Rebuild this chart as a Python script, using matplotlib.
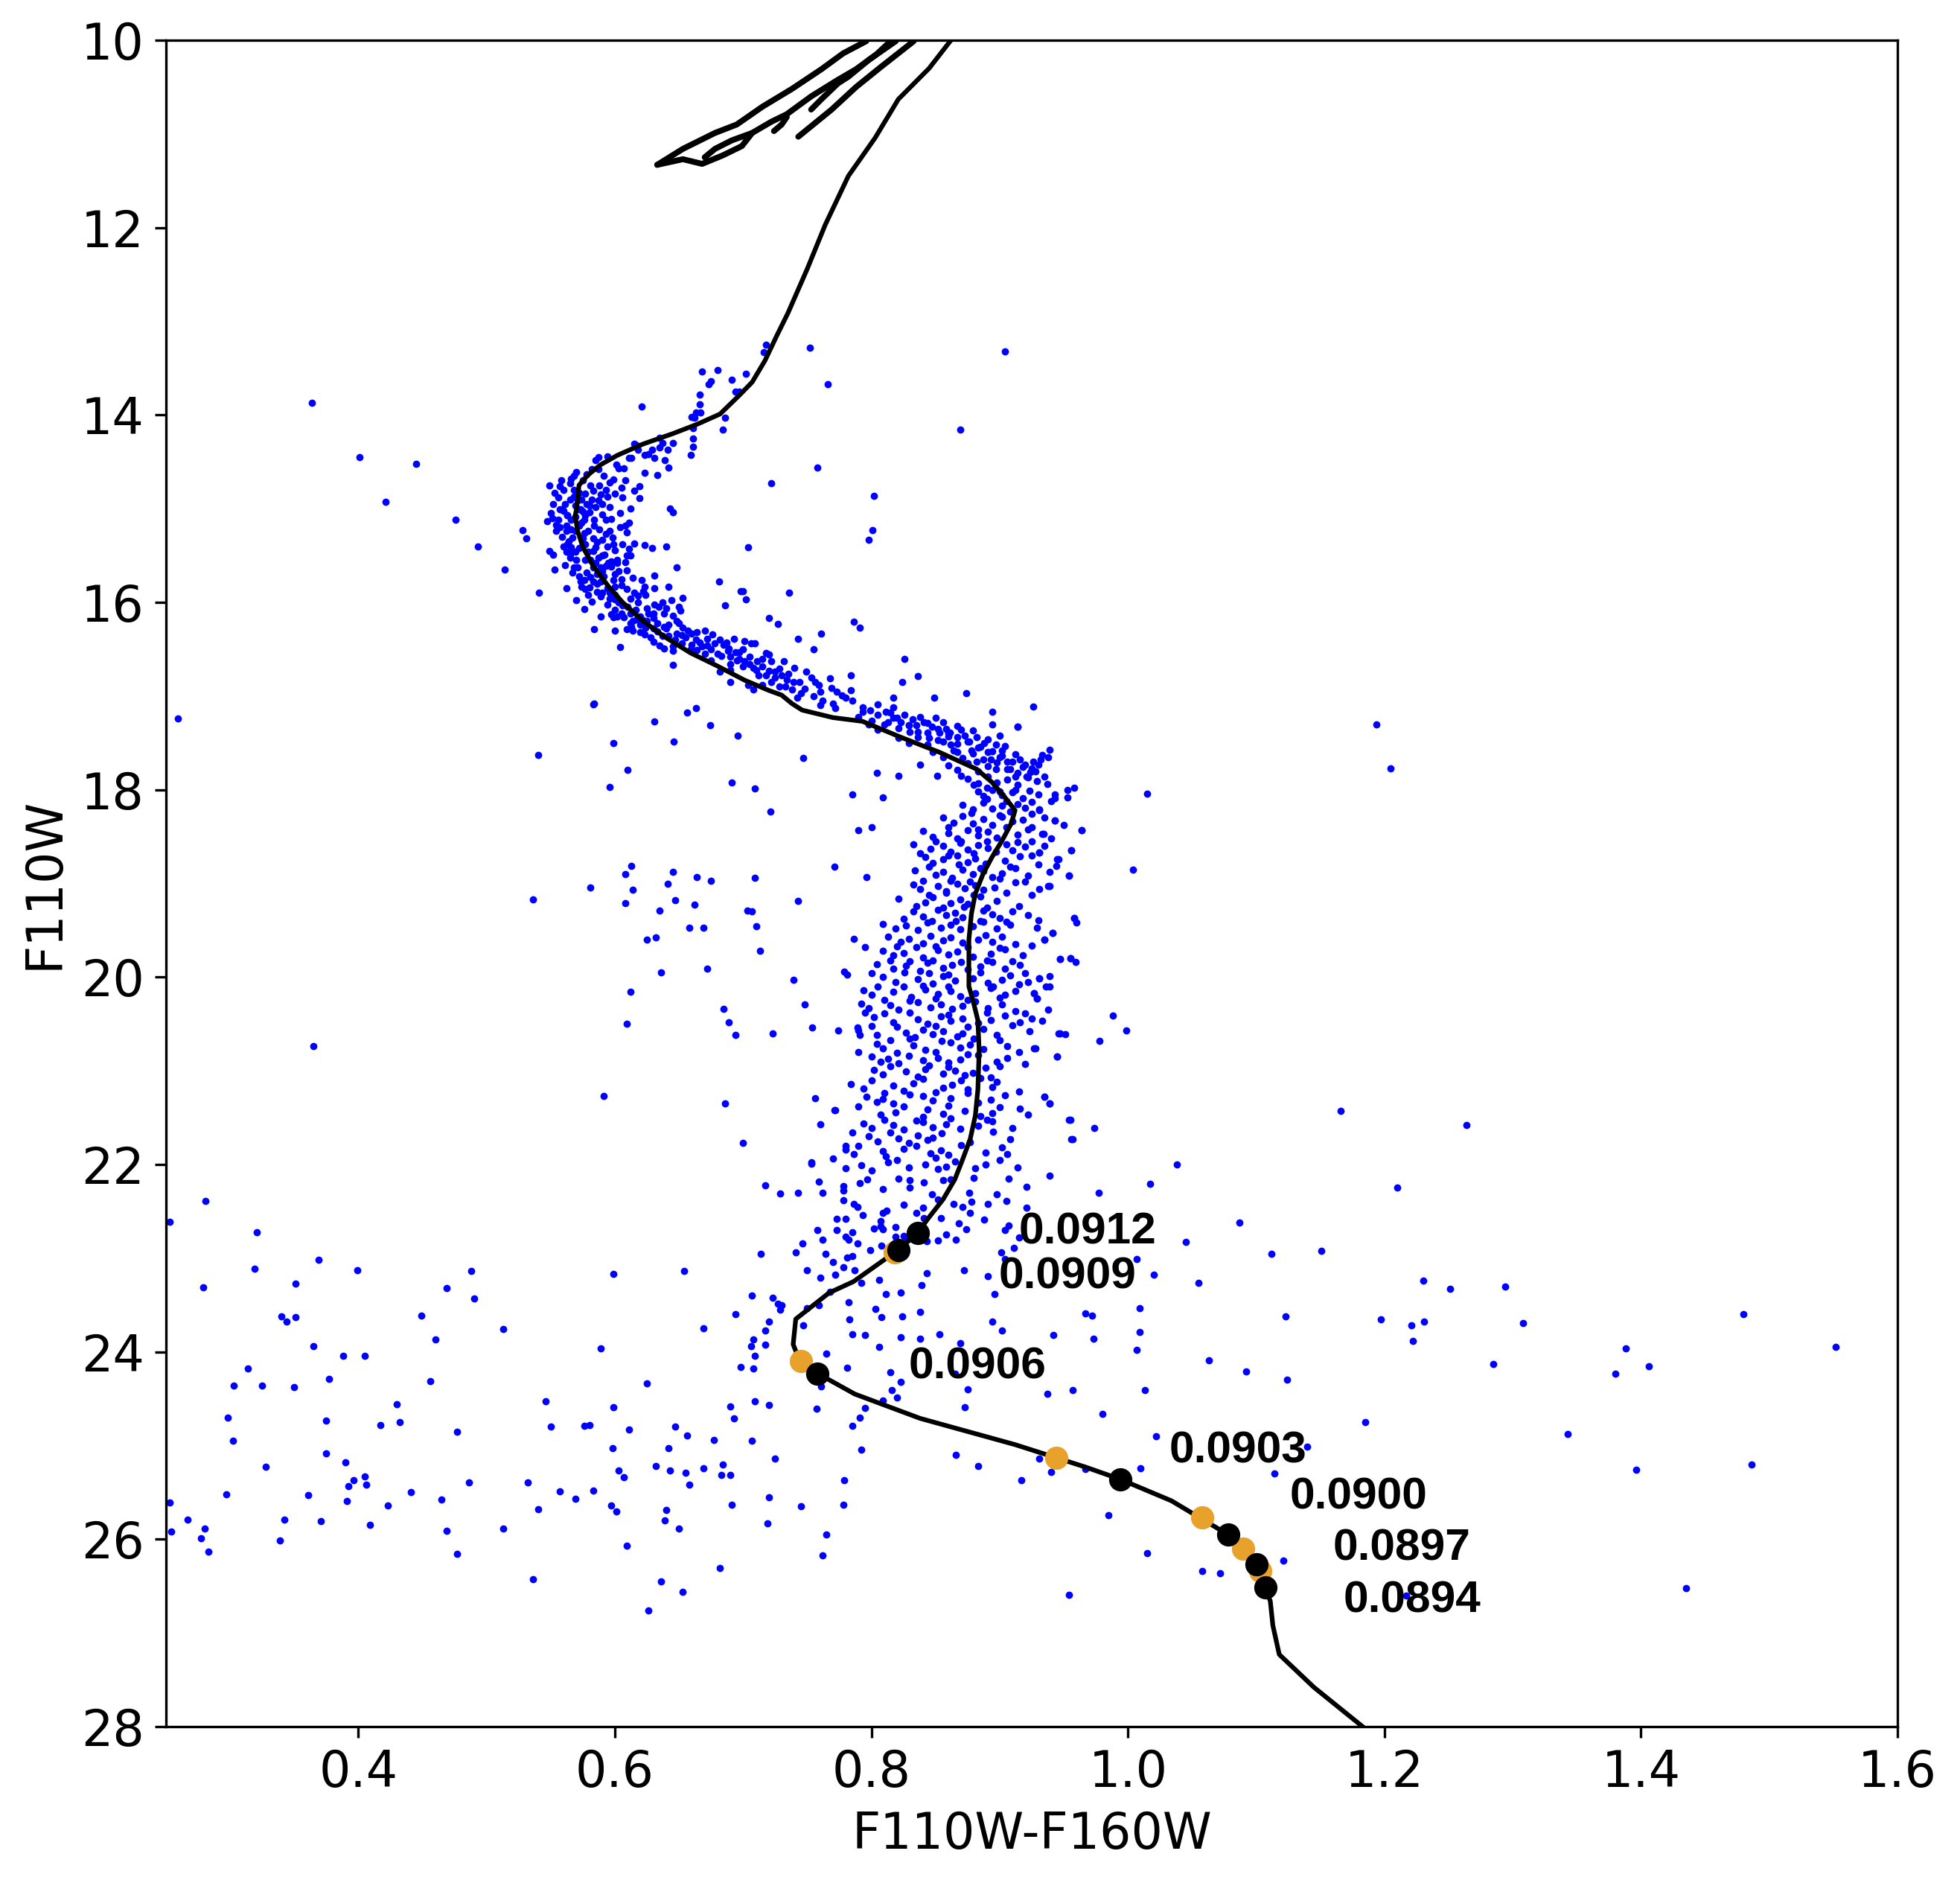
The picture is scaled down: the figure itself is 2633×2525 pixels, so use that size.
import numpy as np
import matplotlib.pyplot as plt

# isochrone (F110W-F160W, F110W)
iso_color = [0.862, 0.845, 0.821, 0.803, 0.782, 0.764, 0.750, 0.735, 0.726, 0.717,
             0.707, 0.697, 0.682, 0.664, 0.645, 0.622, 0.602, 0.589, 0.579, 0.572,
             0.571, 0.570, 0.569, 0.571, 0.575, 0.583, 0.595, 0.606, 0.622, 0.639,
             0.659, 0.680, 0.701, 0.720, 0.730, 0.738, 0.746, 0.770, 0.793, 0.823,
             0.853, 0.882, 0.894, 0.904, 0.912, 0.909, 0.902, 0.894, 0.887, 0.881,
             0.878, 0.876, 0.876, 0.879, 0.883, 0.884, 0.883, 0.881, 0.877, 0.871,
             0.865, 0.856, 0.844, 0.836, 0.821, 0.786, 0.767, 0.741, 0.739, 0.745,
             0.758, 0.787, 0.838, 0.912, 0.967, 0.994, 1.034, 1.078, 1.100, 1.107,
             1.111, 1.113, 1.118, 1.145, 1.183]
iso_mag = [10.00, 10.30, 10.63, 11.04, 11.45, 11.97, 12.44, 12.91, 13.16, 13.42,
           13.65, 13.79, 13.99, 14.10, 14.20, 14.31, 14.43, 14.53, 14.64, 14.75,
           14.90, 15.01, 15.08, 15.24, 15.41, 15.61, 15.83, 16.00, 16.20, 16.37,
           16.54, 16.68, 16.83, 16.94, 16.99, 17.08, 17.15, 17.23, 17.27, 17.44,
           17.60, 17.78, 17.92, 18.08, 18.22, 18.36, 18.54, 18.72, 18.90, 19.11,
           19.32, 19.60, 20.10, 20.24, 20.46, 20.78, 21.20, 21.48, 21.73, 21.95,
           22.16, 22.37, 22.58, 22.73, 22.91, 23.25, 23.37, 23.65, 23.92, 24.13,
           24.23, 24.45, 24.71, 24.99, 25.23, 25.36, 25.59, 25.95, 26.27, 26.51,
           26.66, 26.92, 27.23, 27.58, 28.00]

# evolved branches at the top
branch_a = [(0.796, 10.01), (0.778, 10.14), (0.761, 10.31), (0.738, 10.52), (0.715, 10.71),
            (0.695, 10.90), (0.678, 10.99), (0.653, 11.16), (0.633, 11.33)]
branch_loop = [(0.633, 11.33), (0.653, 11.27), (0.668, 11.32), (0.684, 11.23), (0.699, 11.13),
               (0.707, 10.99), (0.691, 11.07), (0.678, 11.16), (0.670, 11.25)]
branch_b = [(0.707, 10.99), (0.722, 10.87), (0.734, 10.79), (0.753, 10.60), (0.773, 10.43),
            (0.788, 10.31), (0.804, 10.15), (0.815, 10.01)]
branch_hook = [(0.724, 10.97), (0.730, 10.90), (0.734, 10.82)]
branch_c = [(0.753, 10.74), (0.761, 10.63), (0.774, 10.46), (0.782, 10.39), (0.798, 10.21),
            (0.819, 10.01)]
branch_d = [(0.743, 11.03), (0.769, 10.74), (0.788, 10.50), (0.807, 10.29), (0.833, 10.01)]

# mass points on the isochrone
mark_color = [0.836, 0.821, 0.758, 0.994, 1.078, 1.100, 1.107]
mark_mag = [22.73, 22.91, 24.23, 25.36, 25.95, 26.27, 26.51]
mass_labels = ['0.0912', '0.0909', '0.0906', '0.0903', '0.0900', '0.0897', '0.0894']
alt_color = [0.818, 0.745, 0.944, 1.058, 1.090, 1.103]
alt_mag = [22.94, 24.10, 25.13, 25.77, 26.10, 26.34]

# turnoff / upper main sequence stars
ridge = [
    (0.718, 13.25), (0.716, 13.33), (0.752, 13.28), (0.668, 13.54), (0.680, 13.52), (0.702, 13.56),
    (0.691, 13.62), (0.675, 13.64), (0.673, 13.67), (0.766, 13.67), (0.694, 13.75), (0.697, 13.75),
    (0.666, 13.78), (0.666, 13.89), (0.621, 13.91), (0.663, 13.97), (0.667, 13.97), (0.660, 14.02),
    (0.662, 14.03), (0.686, 14.03), (0.684, 14.16), (0.661, 14.14), (0.661, 14.25), (0.661, 14.34),
    (0.659, 14.43), (0.645, 14.30), (0.641, 14.37), (0.635, 14.24), (0.637, 14.30), (0.635, 14.35),
    (0.629, 14.37), (0.623, 14.43), (0.633, 14.64), (0.642, 14.56), (0.639, 14.48), (0.631, 14.46),
    (0.626, 14.42), (0.617, 14.32), (0.615, 14.31), (0.618, 14.37), (0.611, 14.46), (0.613, 14.46),
    (0.607, 14.57), (0.603, 14.57), (0.601, 14.53), (0.594, 14.44), (0.587, 14.45), (0.585, 14.48),
    (0.599, 14.69), (0.623, 14.62), (0.619, 14.76), (0.615, 14.81), (0.605, 14.78), (0.619, 14.89),
    (0.612, 15.00), (0.600, 14.84), (0.594, 14.87), (0.588, 14.75), (0.593, 14.80), (0.591, 14.65),
    (0.587, 14.58), (0.582, 14.58), (0.578, 14.63), (0.570, 14.61), (0.568, 14.65), (0.565, 14.73),
    (0.549, 14.75), (0.557, 14.76), (0.560, 14.80), (0.568, 14.80), (0.581, 14.75), (0.583, 14.81),
    (0.587, 14.91), (0.590, 14.95), (0.585, 14.98), (0.580, 14.97), (0.556, 14.88), (0.558, 15.01),
    (0.560, 15.02), (0.563, 15.07), (0.551, 15.10), (0.547, 15.13), (0.554, 15.17), (0.554, 15.24),
    (0.562, 15.18), (0.562, 15.24), (0.577, 15.07), (0.575, 15.03), (0.584, 15.12), (0.584, 15.18),
    (0.593, 15.12), (0.597, 15.11), (0.611, 15.15), (0.608, 15.18), (0.604, 15.20), (0.609, 15.25),
    (0.593, 15.27), (0.598, 15.31), (0.590, 15.33), (0.615, 15.37), (0.623, 15.39), (0.629, 15.42),
    (0.640, 15.40), (0.643, 15.00), (0.645, 15.04), (0.606, 15.38), (0.599, 15.38), (0.600, 15.44),
    (0.611, 15.43), (0.612, 15.50), (0.609, 15.50), (0.608, 15.57), (0.602, 15.55), (0.602, 15.58),
    (0.592, 15.49), (0.597, 15.56), (0.595, 15.58), (0.603, 15.67), (0.609, 15.66), (0.614, 15.74),
    (0.621, 15.76), (0.631, 15.71), (0.648, 15.63), (0.642, 15.83), (0.631, 15.85), (0.623, 15.83),
    (0.622, 15.88), (0.615, 15.90), (0.618, 15.93), (0.609, 15.86), (0.605, 15.75), (0.599, 15.76),
    (0.600, 15.83), (0.591, 15.72), (0.589, 15.78), (0.581, 15.73), (0.583, 15.78), (0.574, 15.83),
    (0.577, 15.86), (0.562, 15.85), (0.570, 15.98), (0.576, 16.07), (0.579, 15.92), (0.582, 15.99),
    (0.586, 15.89), (0.589, 15.94), (0.596, 15.90), (0.596, 15.96), (0.600, 15.97), (0.603, 16.00),
    (0.606, 16.03), (0.610, 16.05), (0.618, 16.00), (0.624, 15.92), (0.631, 16.02), (0.634, 16.05),
    (0.637, 16.00), (0.644, 15.98), (0.640, 16.06), (0.638, 16.12), (0.650, 16.05), (0.651, 16.09),
    (0.653, 15.95), (0.630, 16.12), (0.626, 16.12), (0.620, 16.15), (0.622, 16.19), (0.614, 16.20),
    (0.612, 16.22), (0.605, 16.12), (0.602, 16.15), (0.597, 16.13), (0.599, 16.16), (0.589, 16.15),
    (0.584, 16.29), (0.600, 16.30), (0.609, 16.29), (0.614, 16.30), (0.620, 16.24), (0.624, 16.27),
    (0.623, 16.34), (0.628, 16.37), (0.633, 16.31), (0.637, 16.36), (0.635, 16.46), (0.638, 16.49),
    (0.645, 16.47), (0.647, 16.40), (0.648, 16.20), (0.642, 16.24), (0.653, 16.27), (0.657, 16.30),
    (0.660, 16.33), (0.664, 16.32), (0.663, 16.40), (0.666, 16.43), (0.659, 16.50), (0.664, 16.51),
    (0.672, 16.39), (0.676, 16.34), (0.678, 16.44), (0.682, 16.40), (0.687, 16.43), (0.693, 16.39),
    (0.701, 16.41), (0.706, 16.44), (0.709, 16.44), (0.694, 16.53), (0.697, 16.53), (0.689, 16.49),
    (0.683, 16.57), (0.682, 16.74), (0.690, 16.85), (0.697, 16.60), (0.701, 16.63), (0.705, 16.66),
    (0.708, 16.70), (0.704, 16.88), (0.708, 16.93), (0.711, 16.63), (0.715, 16.68), (0.718, 16.54),
    (0.720, 16.56), (0.722, 16.63), (0.720, 16.73), (0.725, 16.74), (0.728, 16.71), (0.732, 16.63),
    (0.730, 16.78), (0.734, 16.83), (0.739, 16.85), (0.740, 16.70), (0.744, 16.85), (0.743, 16.39),
    (0.749, 16.74), (0.753, 16.80), (0.756, 16.85), (0.759, 16.88), (0.755, 16.50), (0.761, 16.33),
    (0.768, 16.81), (0.769, 16.91), (0.773, 16.95), (0.777, 16.99), (0.780, 17.02), (0.784, 16.78),
    (0.784, 16.94), (0.786, 16.21), (0.736, 15.90), (0.727, 16.23), (0.720, 16.17), (0.702, 15.97),
    (0.700, 15.88), (0.698, 15.88), (0.686, 16.03), (0.681, 15.78), (0.704, 15.41), (0.722, 14.73),
    (0.758, 14.56), (0.514, 15.65), (0.528, 15.23), (0.531, 15.32), (0.541, 15.90), (0.549, 15.45),
    (0.552, 15.49), (0.553, 15.65), (0.561, 15.60), (0.583, 17.09), (0.584, 17.08), (0.604, 16.48),
    (0.631, 17.27), (0.656, 17.18), (0.663, 17.13), (0.674, 17.31), (0.645, 16.67),
    (0.564, 15.35), (0.566, 15.41), (0.569, 15.46), (0.570, 15.55), (0.571, 15.63), (0.572, 15.72),
    (0.573, 15.78), (0.568, 15.63), (0.565, 15.48), (0.563, 15.38), (0.562, 15.46), (0.567, 15.31),
    (0.569, 15.24), (0.572, 15.18), (0.574, 15.15), (0.576, 15.26), (0.577, 15.38), (0.579, 15.46),
    (0.581, 15.55), (0.583, 15.63), (0.586, 15.70), (0.589, 15.63), (0.593, 15.61), (0.587, 15.52),
    (0.585, 15.41), (0.583, 15.32), (0.579, 15.24), (0.576, 15.12), (0.573, 15.01), (0.571, 14.91),
    (0.568, 14.87), (0.574, 14.90), (0.578, 14.95), (0.582, 14.90), (0.577, 14.84), (0.556, 15.12),
    (0.557, 15.01), (0.561, 14.95), (0.565, 14.90), (0.563, 15.07), (0.566, 15.12), (0.569, 15.09),
    (0.572, 15.01), (0.612, 16.12), (0.625, 16.20), (0.633, 16.22), (0.640, 16.28), (0.648, 16.33),
    (0.655, 16.37), (0.660, 16.45), (0.668, 16.47), (0.675, 16.50), (0.680, 16.55), (0.690, 16.58),
    (0.695, 16.62), (0.700, 16.68), (0.710, 16.72), (0.718, 16.78), (0.722, 16.85), (0.728, 16.90),
    (0.738, 16.93), (0.745, 16.97), (0.755, 17.00), (0.762, 17.05), (0.770, 17.08),
]

ridge_extra = [
    (0.558, 14.70), (0.566, 14.68), (0.575, 14.70), (0.596, 14.72), (0.608, 14.70), (0.553, 14.83),
    (0.572, 14.83), (0.589, 14.85), (0.606, 14.88), (0.552, 14.95), (0.569, 14.97), (0.596, 14.98),
    (0.604, 15.05), (0.550, 15.05), (0.580, 15.04), (0.590, 15.06), (0.557, 15.20), (0.566, 15.22),
    (0.588, 15.22), (0.596, 15.24), (0.559, 15.30), (0.575, 15.32), (0.586, 15.36), (0.594, 15.40),
    (0.560, 15.40), (0.572, 15.42), (0.583, 15.45), (0.590, 15.50), (0.565, 15.52), (0.577, 15.55),
    (0.585, 15.58), (0.597, 15.62), (0.567, 15.68), (0.578, 15.68), (0.590, 15.67), (0.600, 15.70),
    (0.576, 15.76), (0.586, 15.80), (0.594, 15.85), (0.605, 15.82), (0.580, 15.84), (0.590, 15.90),
    (0.600, 15.92), (0.612, 15.96), (0.594, 16.02), (0.600, 16.08), (0.616, 16.08), (0.625, 16.06),
    (0.607, 16.16), (0.617, 16.18), (0.630, 16.17), (0.645, 16.14), (0.613, 16.26), (0.630, 16.28),
    (0.638, 16.26), (0.650, 16.22), (0.620, 16.32), (0.642, 16.36), (0.652, 16.35), (0.670, 16.30),
    (0.630, 16.42), (0.652, 16.44), (0.672, 16.46), (0.685, 16.45), (0.645, 16.52), (0.670, 16.55),
    (0.688, 16.52), (0.700, 16.50), (0.675, 16.62), (0.690, 16.66), (0.705, 16.58), (0.715, 16.60),
    (0.690, 16.72), (0.712, 16.78), (0.725, 16.80), (0.735, 16.76), (0.715, 16.88), (0.733, 16.90),
    (0.748, 16.92), (0.760, 16.95), (0.742, 17.02), (0.760, 17.10), (0.772, 17.13), (0.785, 17.05),
]

# subgiant branch stars
sgb = [
    (0.793, 17.12), (0.799, 17.15), (0.805, 17.09), (0.811, 17.17), (0.817, 17.12), (0.820, 17.23),
    (0.826, 17.20), (0.832, 17.25), (0.835, 17.31), (0.841, 17.28), (0.847, 17.33), (0.850, 17.23),
    (0.853, 17.39), (0.856, 17.28), (0.861, 17.39), (0.867, 17.44), (0.870, 17.36), (0.876, 17.49),
    (0.882, 17.44), (0.885, 17.54), (0.891, 17.60), (0.897, 17.52), (0.900, 17.65), (0.906, 17.70),
    (0.912, 17.62), (0.918, 17.76), (0.924, 17.81), (0.930, 17.73), (0.935, 17.86), (0.912, 17.86),
    (0.897, 17.78), (0.882, 17.70), (0.867, 17.60), (0.856, 17.49), (0.844, 17.39), (0.829, 17.31),
    (0.817, 17.23), (0.805, 17.20), (0.793, 17.17), (0.826, 16.60), (0.836, 16.79), (0.824, 16.85),
    (0.817, 17.02), (0.849, 17.02), (0.874, 16.97), (0.926, 17.11), (0.894, 17.17), (0.914, 17.33),
    (0.938, 17.65), (0.932, 17.68), (0.926, 17.70), (0.804, 17.82), (0.821, 17.85), (0.838, 17.73),
    (0.851, 17.85), (0.869, 14.16), (0.802, 14.86), (0.801, 15.23), (0.798, 15.33), (0.791, 16.27),
    (0.747, 17.66), (0.904, 13.32),
    (0.790, 17.22), (0.800, 17.26), (0.810, 17.30), (0.815, 17.18), (0.823, 17.28), (0.830, 17.38),
    (0.838, 17.22), (0.845, 17.45), (0.858, 17.35), (0.862, 17.52), (0.873, 17.42), (0.878, 17.58),
    (0.888, 17.50), (0.893, 17.68), (0.902, 17.58), (0.908, 17.78), (0.916, 17.68), (0.921, 17.86),
    (0.928, 17.80), (0.870, 17.85), (0.880, 17.95), (0.890, 17.98), (0.900, 18.02), (0.912, 18.00),
    (0.930, 18.05), (0.940, 18.12), (0.925, 18.13), (0.905, 18.12), (0.890, 18.10), (0.878, 18.25),
    (0.900, 18.27), (0.925, 18.26), (0.935, 18.30), (0.860, 18.40), (0.883, 18.42), (0.905, 18.40),
    (0.925, 18.40), (0.950, 18.38), (0.850, 18.55), (0.870, 18.55), (0.890, 18.55), (0.905, 18.58),
    (0.925, 18.55), (0.940, 18.52), (0.838, 18.68), (0.860, 18.70), (0.880, 18.68), (0.897, 18.66),
    (0.925, 18.70), (0.845, 18.82), (0.868, 18.80), (0.885, 18.84), (0.908, 18.82), (0.930, 18.80),
    (0.840, 18.97), (0.862, 18.97), (0.877, 18.98), (0.900, 18.95), (0.920, 18.98), (0.845, 19.12),
    (0.858, 19.10), (0.880, 19.12), (0.905, 19.10), (0.925, 19.12), (0.835, 19.24), (0.856, 19.26),
    (0.872, 19.25), (0.890, 19.26), (0.915, 19.24), (0.825, 19.38), (0.847, 19.40), (0.866, 19.40),
    (0.885, 19.40), (0.905, 19.41), (0.930, 19.39),
]

# lower main sequence stars
ms_color = [
    0.798, 0.805, 0.813, 0.821, 0.829, 0.836, 0.844, 0.852, 0.860, 0.867, 0.879, 0.894, 0.900, 0.914,
    0.821, 0.829, 0.836, 0.844, 0.852, 0.860, 0.867, 0.875, 0.883, 0.891, 0.904,
    0.848, 0.856, 0.864, 0.871, 0.879, 0.887, 0.894, 0.902, 0.910, 0.933, 0.939,
    0.860, 0.867, 0.875, 0.883, 0.891, 0.898, 0.906, 0.914, 0.920, 0.925,
    0.875, 0.883, 0.891, 0.898, 0.906, 0.914, 0.922, 0.929, 0.937,
    0.883, 0.887, 0.894, 0.902, 0.910, 0.918, 0.923, 0.943, 0.953,
    0.871, 0.879, 0.887, 0.894, 0.902, 0.908, 0.914, 0.920, 0.931,
    0.856, 0.864, 0.871, 0.879, 0.887, 0.894, 0.902, 0.910, 0.918, 0.943, 0.964,
    0.840, 0.848, 0.860, 0.867, 0.875, 0.883, 0.891, 0.898, 0.914, 0.922, 0.933,
    0.833, 0.846, 0.856, 0.862, 0.869, 0.875, 0.883, 0.891, 0.910, 0.914, 0.920, 0.931, 0.956,
    0.842, 0.848, 0.856, 0.867, 0.875, 0.881, 0.889, 0.904, 0.916, 0.945,
    0.834, 0.850, 0.856, 0.863, 0.871, 0.879, 0.887, 0.894, 0.902, 0.912, 0.922, 0.939, 0.954,
    0.833, 0.838, 0.852, 0.858, 0.867, 0.873, 0.881, 0.887, 0.896, 0.912, 0.931, 0.939,
    0.821, 0.842, 0.848, 0.862, 0.869, 0.875, 0.885, 0.898,
    0.833, 0.840, 0.852, 0.858, 0.865, 0.871, 0.887, 0.894, 0.900, 0.910, 0.922, 0.958,
    0.809, 0.819, 0.827, 0.836, 0.844, 0.854, 0.862, 0.869, 0.879, 0.887, 0.898, 0.908, 0.929, 0.941,
    0.813, 0.823, 0.829, 0.840, 0.846, 0.856, 0.862, 0.871, 0.883, 0.889, 0.894, 0.902, 0.912, 0.935,
    0.809, 0.817, 0.825, 0.840, 0.852, 0.860, 0.867, 0.879, 0.893, 0.904, 0.918, 0.947, 0.955,
    0.804, 0.817, 0.827, 0.838, 0.844, 0.856, 0.863, 0.875, 0.885, 0.894, 0.904, 0.916,
    0.809, 0.819, 0.836, 0.848, 0.856, 0.865, 0.879, 0.891, 0.902, 0.908, 0.922, 0.931, 0.939,
    0.794, 0.800, 0.817, 0.831, 0.842, 0.852, 0.862, 0.869, 0.881, 0.893, 0.904, 0.912, 0.927,
    0.792, 0.798, 0.815, 0.821, 0.836, 0.846, 0.854, 0.863, 0.871, 0.881, 0.891, 0.902, 0.912, 0.929,
    0.802, 0.817, 0.836, 0.844, 0.854, 0.862, 0.871, 0.883, 0.893, 0.904, 0.916, 0.925, 0.933,
    0.790, 0.804, 0.827, 0.834, 0.840, 0.848, 0.856, 0.867, 0.871, 0.887, 0.898, 0.923, 0.947,
    0.804, 0.809, 0.833, 0.842, 0.862, 0.869, 0.877, 0.887, 0.906, 0.927,
    0.800, 0.807, 0.813, 0.821, 0.829, 0.840, 0.852, 0.860, 0.869, 0.883, 0.898, 0.906, 0.920, 0.945,
    0.802, 0.809, 0.827, 0.836, 0.842, 0.856, 0.865, 0.873, 0.879, 0.889, 0.893,
    0.784, 0.794, 0.817, 0.825, 0.833, 0.856, 0.863, 0.875, 0.894, 0.898, 0.935,
    0.796, 0.804, 0.809, 0.817, 0.840, 0.848, 0.862, 0.883, 0.893, 0.904, 0.939,
    0.771, 0.807, 0.819, 0.840, 0.844, 0.856, 0.873, 0.885, 0.894, 0.916, 0.922,
    0.794, 0.800, 0.817, 0.825, 0.840, 0.848, 0.858, 0.869, 0.883, 0.894, 0.910, 0.954,
    0.798, 0.805, 0.821, 0.829, 0.836, 0.844, 0.848, 0.877, 0.908, 0.956,
    0.780, 0.786, 0.809, 0.811, 0.825, 0.846, 0.854, 0.860, 0.889, 0.902, 0.906,
    0.753, 0.780, 0.792, 0.800, 0.813, 0.829, 0.842, 0.852, 0.858, 0.865, 0.881, 0.889, 0.914,
    0.709, 0.721, 0.785, 0.809, 0.790, 0.800, 0.771, 0.796, 0.709, 0.743, 0.703, 0.707, 0.710,
    0.713, 0.739, 0.748, 0.723, 0.754, 0.774, 0.789, 0.791, 0.779, 0.781, 0.786, 0.795, 0.756,
    0.772, 0.760, 0.780, 0.753,
    0.953, 0.958, 0.943, 0.931, 0.943, 0.964, 0.934, 0.931, 0.935, 0.956, 0.946, 0.944, 0.954,
    0.938, 0.958, 0.960, 0.941, 0.935, 0.947, 0.955, 0.959, 0.939, 0.931, 0.936, 0.927, 0.929,
    0.938, 0.988, 0.946, 0.951, 0.978, 0.928, 0.945, 0.935, 0.939, 0.955, 0.974, 0.957,
]
ms_mag = [
    17.30, 17.36, 17.28, 17.34, 17.31, 17.38, 17.29, 17.35, 17.40, 17.32, 17.37, 17.30, 17.42, 17.33,
    17.45, 17.50, 17.44, 17.52, 17.47, 17.43, 17.51, 17.49, 17.55, 17.46, 17.53,
    17.60, 17.65, 17.58, 17.66, 17.61, 17.68, 17.59, 17.64, 17.70, 17.63, 17.57,
    17.74, 17.79, 17.72, 17.80, 17.75, 17.71, 17.78, 17.82, 17.73, 17.77,
    17.88, 17.93, 17.86, 17.92, 17.89, 17.95, 17.87, 17.91, 17.94,
    18.02, 18.07, 18.00, 18.06, 18.03, 18.09, 18.01, 18.05, 18.08,
    18.16, 18.21, 18.14, 18.20, 18.17, 18.23, 18.15, 18.19, 18.22,
    18.30, 18.35, 18.28, 18.36, 18.31, 18.38, 18.29, 18.34, 18.32, 18.33, 18.43,
    18.44, 18.50, 18.46, 18.52, 18.43, 18.49, 18.45, 18.51, 18.48, 18.42, 18.47,
    18.58, 18.63, 18.60, 18.66, 18.57, 18.64, 18.59, 18.62, 18.65, 18.56, 18.61, 18.67, 18.65,
    18.72, 18.78, 18.74, 18.70, 18.77, 18.73, 18.79, 18.76, 18.71, 18.74,
    18.86, 18.91, 18.88, 18.94, 18.85, 18.90, 18.87, 18.93, 18.89, 18.84, 18.92, 18.88, 18.92,
    19.01, 19.06, 19.03, 19.08, 19.00, 19.05, 19.02, 19.07, 19.04, 18.99, 19.06, 19.03,
    19.16, 19.20, 19.15, 19.21, 19.17, 19.22, 19.14, 19.19,
    19.30, 19.35, 19.28, 19.34, 19.31, 19.36, 19.29, 19.33, 19.37, 19.30, 19.34, 19.37,
    19.43, 19.48, 19.45, 19.50, 19.42, 19.47, 19.44, 19.49, 19.46, 19.41, 19.48, 19.44, 19.47, 19.53,
    19.57, 19.62, 19.59, 19.64, 19.56, 19.61, 19.58, 19.63, 19.60, 19.55, 19.62, 19.57, 19.65, 19.60,
    19.72, 19.77, 19.74, 19.79, 19.71, 19.76, 19.73, 19.78, 19.75, 19.70, 19.77, 19.81, 19.80,
    19.86, 19.91, 19.88, 19.93, 19.85, 19.90, 19.87, 19.92, 19.89, 19.84, 19.91, 19.87,
    20.00, 20.05, 20.02, 20.07, 19.99, 20.04, 20.01, 20.06, 20.03, 19.98, 20.05, 20.01, 20.10,
    20.14, 20.19, 20.16, 20.21, 20.13, 20.18, 20.15, 20.20, 20.17, 20.12, 20.19, 20.15, 20.17,
    20.28, 20.33, 20.30, 20.35, 20.27, 20.32, 20.29, 20.34, 20.31, 20.26, 20.33, 20.29, 20.36, 20.23,
    20.43, 20.48, 20.45, 20.50, 20.42, 20.47, 20.44, 20.49, 20.46, 20.41, 20.48, 20.44, 20.47,
    20.57, 20.62, 20.59, 20.64, 20.56, 20.61, 20.58, 20.63, 20.60, 20.55, 20.62, 20.58, 20.60,
    20.71, 20.76, 20.73, 20.78, 20.70, 20.75, 20.72, 20.77, 20.74, 20.76,
    20.85, 20.90, 20.87, 20.92, 20.84, 20.89, 20.86, 20.91, 20.88, 20.83, 20.90, 20.86, 20.93, 20.85,
    20.99, 21.04, 21.01, 21.06, 20.98, 21.03, 21.00, 21.05, 21.02, 20.97, 21.07,
    21.14, 21.19, 21.16, 21.21, 21.13, 21.18, 21.15, 21.20, 21.17, 21.12, 21.28,
    21.28, 21.33, 21.30, 21.35, 21.27, 21.32, 21.29, 21.34, 21.31, 21.26, 21.35,
    21.42, 21.47, 21.44, 21.49, 21.41, 21.46, 21.43, 21.48, 21.45, 21.40, 21.47,
    21.56, 21.61, 21.58, 21.63, 21.55, 21.60, 21.57, 21.62, 21.59, 21.54, 21.61, 21.52,
    21.70, 21.75, 21.72, 21.77, 21.69, 21.74, 21.71, 21.76, 21.73, 21.73,
    21.84, 21.89, 21.86, 21.91, 21.83, 21.88, 21.85, 21.90, 21.87, 21.82, 21.89,
    21.99, 22.04, 22.01, 22.06, 21.98, 22.03, 22.00, 22.05, 22.02, 21.97, 22.04, 22.00, 22.03,
    17.99, 18.23, 18.05, 18.08, 18.43, 18.40, 18.82, 18.93, 18.94, 19.19, 19.29, 19.30, 19.46,
    19.72, 20.03, 20.29, 20.60, 20.54, 20.57, 20.54, 20.62, 19.94, 19.97, 19.59, 19.68, 21.29,
    21.42, 21.57, 21.80, 21.98,
    18.00, 17.98, 18.09, 18.21, 18.33, 18.43, 18.47, 18.67, 18.60, 18.65, 18.74, 18.81, 18.92,
    19.03, 19.37, 19.42, 19.53, 19.60, 19.81, 19.80, 19.84, 19.99, 20.01, 20.10, 20.17, 20.23,
    20.35, 20.41, 20.60, 20.61, 20.68, 20.76, 20.85, 21.28, 21.35, 21.52, 21.61, 21.73,
]

ms_extra = [
    (0.820, 19.67), (0.835, 19.68), (0.850, 19.67), (0.875, 19.68), (0.900, 19.69), (0.925, 19.66),
    (0.815, 19.82), (0.830, 19.83), (0.848, 19.82), (0.870, 19.84), (0.890, 19.82), (0.910, 19.83),
    (0.800, 19.96), (0.826, 19.95), (0.845, 19.96), (0.860, 19.97), (0.885, 19.95), (0.920, 19.96),
    (0.805, 20.10), (0.825, 20.10), (0.840, 20.09), (0.860, 20.10), (0.895, 20.10), (0.915, 20.08),
    (0.810, 20.24), (0.830, 20.25), (0.850, 20.23), (0.875, 20.24), (0.900, 20.22),
    (0.795, 20.38), (0.810, 20.39), (0.830, 20.38), (0.860, 20.40), (0.890, 20.38), (0.920, 20.39),
    (0.800, 20.52), (0.820, 20.53), (0.850, 20.52), (0.875, 20.53), (0.910, 20.51),
    (0.815, 20.67), (0.830, 20.66), (0.855, 20.68), (0.880, 20.66), (0.900, 20.67),
    (0.790, 20.80), (0.820, 20.81), (0.850, 20.80), (0.875, 20.82), (0.915, 20.80),
    (0.815, 20.95), (0.845, 20.94), (0.860, 20.96), (0.900, 20.95),
    (0.800, 21.10), (0.840, 21.09), (0.870, 21.10), (0.885, 21.08),
    (0.810, 21.24), (0.830, 21.25), (0.850, 21.23), (0.875, 21.24), (0.915, 21.22),
    (0.790, 21.38), (0.825, 21.38), (0.860, 21.37), (0.900, 21.39),
    (0.810, 21.52), (0.835, 21.53), (0.862, 21.51), (0.890, 21.52),
    (0.785, 21.66), (0.815, 21.66), (0.855, 21.67), (0.895, 21.65),
    (0.790, 21.80), (0.835, 21.80), (0.870, 21.79),
    (0.770, 21.94), (0.820, 21.95), (0.850, 21.93), (0.900, 21.95),
]

# faint stars near the bottom of the main sequence
faint = [
    (0.759, 22.18), (0.778, 22.23), (0.791, 22.20), (0.797, 22.16), (0.821, 22.15), (0.830, 22.17),
    (0.841, 22.19), (0.856, 22.17), (0.862, 22.16), (0.880, 22.14), (0.907, 22.15), (1.017, 22.21),
    (1.210, 22.25), (0.743, 22.30), (0.762, 22.30), (0.778, 22.28), (0.809, 22.26), (0.830, 22.25),
    (0.847, 22.32), (0.876, 22.30), (0.898, 22.32), (0.905, 22.39), (0.921, 22.24), (0.977, 22.30),
    (0.778, 22.38), (0.786, 22.42), (0.789, 22.45), (0.809, 22.52), (0.812, 22.49), (0.825, 22.43),
    (0.840, 22.46), (0.852, 22.37), (0.864, 22.42), (0.871, 22.45), (0.878, 22.40), (0.891, 22.42),
    (0.921, 22.46), (0.773, 22.58), (0.780, 22.58), (0.793, 22.54), (0.807, 22.60), (0.807, 22.66),
    (0.802, 22.68), (0.809, 22.69), (0.819, 22.67), (0.835, 22.52), (0.841, 22.57), (0.854, 22.57),
    (0.868, 22.63), (0.874, 22.69), (0.877, 22.52), (0.888, 22.59), (0.904, 22.70), (0.758, 22.70),
    (0.773, 22.70), (0.785, 22.72), (0.780, 22.77), (0.782, 22.80), (0.819, 22.77), (0.825, 22.76),
    (0.828, 22.80), (0.843, 22.82), (0.852, 22.81), (0.858, 22.75), (0.866, 22.80), (0.907, 22.65),
    (0.915, 22.78), (0.911, 22.89), (0.901, 22.94), (0.904, 23.01), (0.746, 22.84), (0.762, 22.80),
    (0.789, 22.84), (0.799, 22.91), (0.808, 22.87), (0.785, 22.98), (0.781, 22.99), (0.741, 22.94),
    (0.764, 22.95), (0.770, 23.04), (0.778, 23.10), (0.787, 23.13), (0.750, 23.13), (0.760, 23.21),
    (0.772, 23.18), (0.792, 23.26), (0.806, 23.23), (0.843, 23.16), (0.872, 23.13), (0.839, 23.29),
    (0.891, 23.19), (1.007, 23.01), (1.020, 23.18), (1.045, 22.83), (1.055, 23.26), (1.087, 22.62),
    (1.112, 22.95), (1.151, 22.92), (1.230, 23.24), (1.251, 23.33), (1.294, 23.30), (0.768, 23.36),
    (0.782, 23.47), (0.811, 23.38), (0.823, 23.37), (0.896, 23.38), (0.750, 23.53), (0.730, 23.50),
    (0.759, 23.50), (0.803, 23.54), (0.808, 23.63), (0.824, 23.62), (0.838, 23.57), (0.783, 23.65),
    (0.894, 23.68), (0.902, 23.77), (0.967, 23.59), (0.972, 23.61), (1.009, 23.53), (1.123, 23.62),
    (1.197, 23.65), (1.231, 23.68), (1.221, 23.72), (1.308, 23.69), (0.747, 23.72), (0.785, 23.81),
    (0.795, 23.82), (0.823, 23.84), (0.838, 23.86), (0.853, 23.81), (0.869, 23.91), (0.942, 23.82),
    (0.973, 23.86), (1.009, 23.79), (1.222, 23.88), (0.806, 23.95), (0.765, 24.02), (0.781, 24.17),
    (0.815, 24.22), (0.823, 24.32), (0.865, 24.23), (0.875, 24.40), (0.816, 24.41), (0.820, 24.49),
    (0.761, 24.37), (0.795, 24.60), (0.809, 24.52), (0.873, 24.59), (0.937, 24.45), (0.957, 24.41),
    (1.013, 24.41), (0.980, 24.66), (1.007, 23.98), (1.063, 24.09), (1.092, 24.21), (1.124, 24.30),
    (1.285, 24.13), (0.757, 24.61), (0.791, 24.70), (0.785, 24.79), (1.022, 24.90), (1.140, 25.01),
    (1.185, 24.75), (0.792, 25.04), (0.866, 25.10), (0.883, 25.22), (0.931, 25.14), (0.940, 25.28),
    (0.967, 25.25), (0.917, 25.37), (1.010, 25.24), (1.114, 25.30), (0.779, 25.37), (0.745, 25.65),
    (0.778, 25.63), (0.985, 25.74), (0.765, 25.95), (0.762, 26.17), (1.015, 26.15), (1.058, 26.34),
    (1.072, 26.36), (1.121, 26.23), (0.954, 26.59), (1.217, 26.60),
    (0.281, 22.39), (0.253, 22.61), (0.321, 22.72), (0.279, 23.31), (0.319, 23.11), (0.369, 23.02),
    (0.351, 23.27), (0.399, 23.13), (0.488, 23.14), (0.469, 23.32), (0.490, 23.43), (0.340, 23.62),
    (0.344, 23.68), (0.351, 23.63), (0.449, 23.61), (0.460, 23.87), (0.513, 23.76), (0.365, 23.94),
    (0.388, 24.04), (0.405, 24.04), (0.314, 24.18), (0.303, 24.36), (0.325, 24.36), (0.350, 24.38),
    (0.377, 24.29), (0.456, 24.31), (0.430, 24.56), (0.298, 24.70), (0.375, 24.73), (0.302, 24.95),
    (0.417, 24.78), (0.432, 24.75), (0.477, 24.85), (0.328, 25.23), (0.375, 25.08), (0.390, 25.18),
    (0.392, 25.43), (0.396, 25.37), (0.405, 25.33), (0.406, 25.42), (0.391, 25.59), (0.297, 25.52),
    (0.253, 25.61), (0.267, 25.79), (0.280, 25.89), (0.277, 25.99), (0.283, 26.13), (0.254, 25.92),
    (0.361, 25.53), (0.342, 25.79), (0.339, 26.01), (0.371, 25.81), (0.409, 25.85), (0.423, 25.64),
    (0.441, 25.50), (0.465, 25.58), (0.486, 25.39), (0.469, 25.91), (0.513, 25.89), (0.477, 26.16),
    (0.532, 25.39), (0.540, 25.68), (0.557, 25.49), (0.569, 25.57), (0.583, 25.48), (0.536, 26.43),
    (0.546, 24.53), (0.550, 24.80), (0.576, 24.79), (0.580, 24.78), (0.589, 23.96), (0.599, 23.17),
    (0.654, 23.14), (0.625, 24.34), (0.599, 24.59), (0.611, 24.83), (0.598, 25.03), (0.603, 25.27),
    (0.607, 25.34), (0.597, 25.64), (0.601, 25.70), (0.609, 26.07), (0.626, 26.76), (0.636, 26.45),
    (0.653, 26.56), (0.639, 25.80), (0.640, 25.69), (0.650, 25.89), (0.632, 25.22), (0.643, 25.27),
    (0.655, 25.29), (0.658, 25.42), (0.669, 25.24), (0.677, 24.94), (0.684, 25.20), (0.683, 25.31),
    (0.690, 25.31), (0.691, 25.63), (0.682, 26.31), (0.642, 25.03), (0.647, 24.80), (0.656, 24.89),
    (0.669, 23.75), (0.690, 24.58), (0.693, 24.71), (0.707, 24.95), (0.720, 25.55), (0.719, 25.83),
    (0.725, 25.14), (0.709, 24.53), (0.720, 24.57), (0.698, 24.16), (0.708, 24.18), (0.709, 24.04),
    (0.706, 23.94), (0.708, 23.87), (0.717, 23.92), (0.717, 23.77), (0.720, 23.68), (0.694, 23.60),
    (0.707, 23.40), (0.714, 22.95), (0.723, 23.42), (0.727, 23.49), (0.729, 23.55), (0.717, 22.22),
    (0.729, 22.31), (0.700, 21.77),
]

# scattered field stars
field = [
    (0.364, 13.87), (0.401, 14.45), (0.445, 14.52), (0.421, 14.93), (0.476, 15.12), (0.493, 15.40),
    (0.259, 17.24), (0.365, 20.74), (0.646, 17.49), (0.599, 17.50), (0.540, 17.63), (0.610, 17.79),
    (0.596, 17.97), (0.691, 17.92), (0.696, 17.42), (0.536, 19.17), (0.581, 19.04), (0.608, 18.90),
    (0.613, 18.81), (0.614, 19.07), (0.608, 19.21), (0.641, 19.00), (0.645, 18.88), (0.664, 18.93),
    (0.675, 18.97), (0.647, 19.18), (0.662, 19.23), (0.635, 19.29), (0.658, 19.47), (0.669, 19.47),
    (0.625, 19.60), (0.632, 19.58), (0.636, 19.95), (0.672, 19.91), (0.612, 20.16), (0.609, 20.50),
    (0.685, 20.34), (0.689, 20.48), (0.694, 20.62), (0.591, 21.27), (0.686, 21.35),
    (1.194, 17.30), (1.205, 17.77), (1.015, 18.04), (1.004, 18.85), (1.166, 21.43), (0.999, 20.57),
    (1.264, 21.58), (1.038, 22.00), (0.939, 22.12), (1.480, 23.60), (1.552, 23.95), (1.388, 23.96),
    (1.380, 24.23), (1.406, 24.15), (1.343, 24.88), (1.396, 25.26), (1.486, 25.20), (1.435, 26.52),
]

label_xy = [(0.915, 22.72), (0.899, 23.20), (0.829, 24.16), (1.032, 25.06),
            (1.126, 25.55), (1.160, 26.10), (1.168, 26.66)]

fig = plt.figure(figsize=(2633 / 300, 2525 / 300), dpi=300)
ax = fig.add_axes([223 / 2633, 1 - 2319 / 2525, 2326 / 2633, 2265 / 2525])

for group in (ridge, ridge_extra, sgb, ms_extra, faint, field):
    c, m = zip(*group)
    ax.scatter(c, m, s=5.5, color='blue', linewidths=0, zorder=1)
ax.scatter(ms_color, ms_mag, s=5.5, color='blue', linewidths=0, zorder=1)

ax.plot(iso_color, iso_mag, color='black', lw=1.5, zorder=2)
for br in (branch_a, branch_loop, branch_b, branch_hook, branch_c, branch_d):
    c, m = zip(*br)
    ax.plot(c, m, color='black', lw=1.9, solid_capstyle='round', zorder=2)

ax.plot(alt_color, alt_mag, 'o', color='#e8a22b', ms=7.5, mew=0, zorder=3)
ax.plot(mark_color, mark_mag, 'o', color='black', ms=7.5, mew=0, zorder=4)

for lab, (x, y) in zip(mass_labels, label_xy):
    ax.text(x, y, lab, fontsize=14.5, fontweight='bold', va='center', ha='left',
            family=['Liberation Sans', 'DejaVu Sans'], zorder=5)

ax.set_xlim(0.25, 1.6)
ax.set_ylim(28, 10)
ax.set_xticks([0.4, 0.6, 0.8, 1.0, 1.2, 1.4, 1.6])
ax.set_yticks(np.arange(10, 29, 2))
ax.tick_params(labelsize=16)
ax.set_xlabel('F110W-F160W', fontsize=16)
ax.set_ylabel('F110W', fontsize=16)

fig.savefig('out.png', dpi=300)
